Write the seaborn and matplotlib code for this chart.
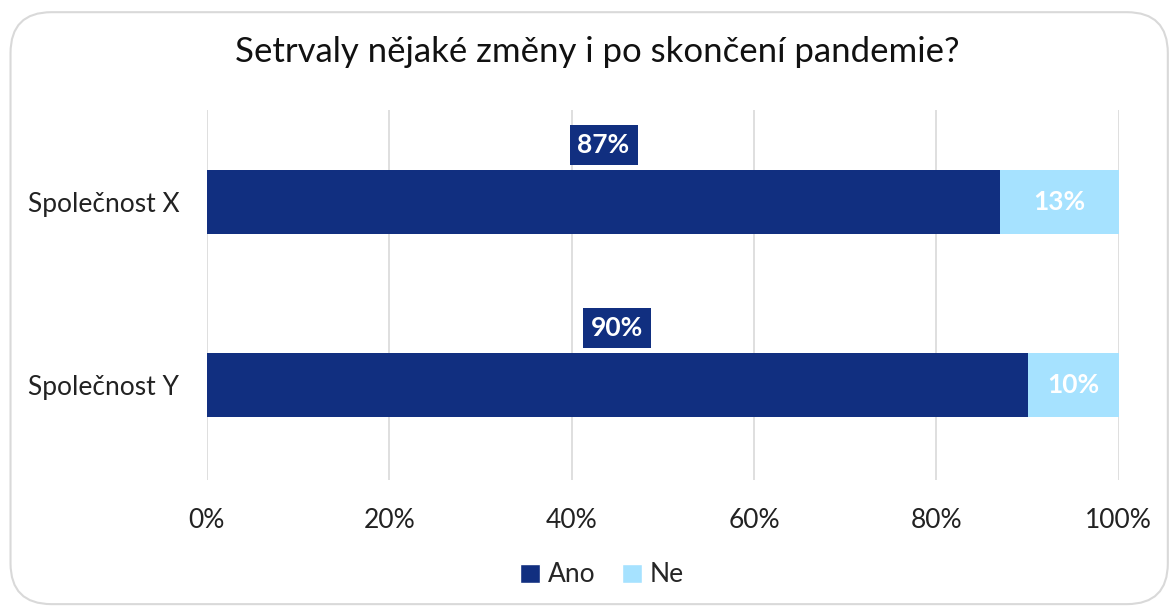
import numpy as np
import pandas as pd
import matplotlib
matplotlib.use("Agg")
import matplotlib.pyplot as plt
from matplotlib.patches import FancyBboxPatch, Patch
import seaborn as sns

# data
companies = ["Společnost X", "Společnost Y"]
ano = [87, 90]
ne = [13, 10]
series = ["Ano", "Ne"]

navy = "#112F80"
light = "#A6E2FF"

sns.set_theme(style="white")
plt.rcParams['font.family'] = ['Lato', 'DejaVu Sans']

df = pd.DataFrame({"company": companies, "Ano": ano, "Ne": ne})
df["total"] = df["Ano"] + df["Ne"]

fig = plt.figure(figsize=(11.69, 6.09), dpi=100)
ax = fig.add_axes([0.177, 0.212, 0.78, 0.607])

# stacked bars: total first (light), then Ano on top (navy)
sns.barplot(data=df, y="company", x="total", color=light, width=0.35,
            orient="h", ax=ax, saturation=1, linewidth=0)
sns.barplot(data=df, y="company", x="Ano", color=navy, width=0.35,
            orient="h", ax=ax, saturation=1, linewidth=0)

ax.set_xlim(0, 100)
ax.set_ylim(1.52, -0.5)
ax.set_xticks(np.arange(0, 101, 20))
ax.set_xticklabels([f"{v}%" for v in range(0, 101, 20)], fontsize=19, color="#222222")
ax.tick_params(axis="y", labelsize=19, labelcolor="#222222", pad=20, length=0)
ax.tick_params(axis="x", pad=20, length=0)
ax.set_xlabel("")
ax.set_ylabel("")
ax.grid(axis="x", color="#D9D9D9", linewidth=1.2)
ax.set_axisbelow(True)
for s in ax.spines.values():
    s.set_visible(False)

for i, (a, n) in enumerate(zip(ano, ne)):
    ax.text(a / 2, i - 0.31, f"{a}%", ha="center", va="center", color="white",
            fontsize=19, fontweight="bold",
            bbox=dict(boxstyle="square,pad=0.3", facecolor=navy, edgecolor="none"))
    ax.text(a + n / 2, i, f"{n}%", ha="center", va="center", color="white",
            fontsize=19, fontweight="bold")

fig.text(0.511, 0.915, "Setrvaly nějaké změny i po skončení pandemie?",
         ha="center", va="center", fontsize=25, color="#111111")

handles = [Patch(facecolor=navy, label="Ano"), Patch(facecolor=light, label="Ne")]
fig.legend(handles=handles, loc="center", bbox_to_anchor=(0.515, 0.056), ncol=2,
           frameon=False, fontsize=19, handlelength=0.75, handleheight=0.75,
           handletextpad=0.3, columnspacing=1.0)

border = FancyBboxPatch((0.009, 0.008), 0.99, 0.972, transform=fig.transFigure,
                        boxstyle="round,pad=0,rounding_size=0.035",
                        facecolor="none", edgecolor="#D9D9D9", linewidth=1.5,
                        mutation_aspect=1169 / 609)
fig.patches.append(border)

fig.savefig("out.png", dpi=100)
